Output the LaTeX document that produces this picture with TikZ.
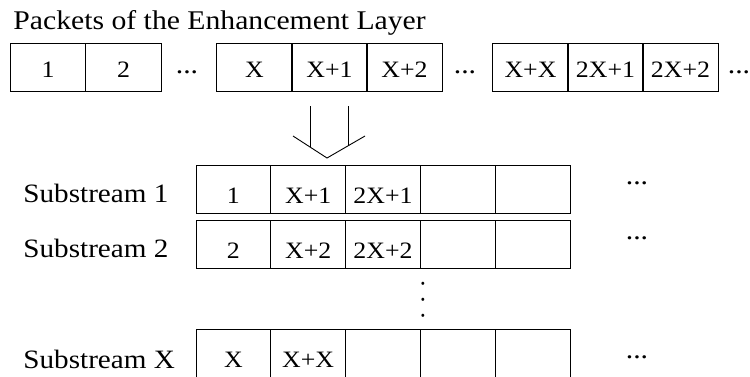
\documentclass[tikz,border=0pt]{standalone}
\usepackage{fontspec}
\setmainfont{Liberation Serif}[FakeStretch=1.1]
\begin{document}
\begin{tikzpicture}[x=1pt,y=1pt,line width=0.9pt,
  pkt/.style={draw, minimum width=75.5pt, minimum height=48pt, inner sep=0pt,
    text height=20.6pt, text depth=0pt, font=\fontsize{23.5}{24}\selectfont},
  slot/.style={draw, minimum width=74.8pt, minimum height=48pt, inner sep=0pt,
    text height=28pt, text depth=0pt, font=\fontsize{23.5}{24}\selectfont},
  heading/.style={anchor=base west, inner sep=0pt, font=\fontsize{27}{30}\selectfont},
  rowlabel/.style={anchor=base west, inner sep=0pt, font=\fontsize{26.5}{30}\selectfont},
  more/.style={anchor=base, inner sep=0pt, font=\fontsize{27}{30}\selectfont},
  vdots/.style={anchor=base, rotate=-90, inner sep=0pt, font=\fontsize{24}{24}\selectfont}]
\useasboundingbox (0,0) rectangle (750,-376);
\clip (0,0) rectangle (750,-376);

% title
\node[heading] (title) at (13,-29.3) {Packets of the Enhancement Layer};

% packets of the enhancement layer
\node[pkt] (t1) at (48,-67) {1};
\node[pkt] (t2) at (123.5,-67) {2};
\node[more] (d1) at (187,-73) {...};
\node[pkt] (t3) at (254.5,-67) {X};
\node[pkt] (t4) at (329.5,-67) {X+1};
\node[pkt] (t5) at (404.5,-67) {X+2};
\node[more] (d2) at (465,-73) {...};
\node[pkt] (t6) at (530.5,-67) {X+X};
\node[pkt] (t7) at (605.5,-67) {2X+1};
\node[pkt] (t8) at (680.5,-67) {2X+2};
\node[more] (d3) at (739,-73) {...};

% open block arrow
\coordinate (tip) at (327,-158);
\draw (310,-106) -- (310,-147);
\draw (348,-106) -- (348,-146);
\draw (293,-136) -- (tip) -- (365,-136);

% substreams
\node[rowlabel] (l1) at (23,-202) {Substream 1};
\node[rowlabel] (l2) at (23,-257) {Substream 2};
\node[rowlabel] (lx) at (23,-368) {Substream X};

\foreach \r/\y/\a/\b/\c in {a/-189/1/X+1/2X+1, b/-244/2/X+2/2X+2, x/-353/X/X+X/} {
  \node[slot] (\r1) at (233.4,\y) {\a};
  \node[slot] (\r2) at (308.2,\y) {\b};
  \node[slot] (\r3) at (383.0,\y) {\c};
  \node[slot] (\r4) at (457.8,\y) {};
  \node[slot] (\r5) at (532.6,\y) {};
}

\node[more] (ra) at (637,-184) {...};
\node[more] (rb) at (637,-239) {...};
\node[more] (rx) at (637,-358) {...};

% vertical ellipsis between substreams 2 and X
\node[vdots] (vd) at (421.9,-300) {.\kern9.4pt.\kern9.4pt.};
\end{tikzpicture}
\end{document}
